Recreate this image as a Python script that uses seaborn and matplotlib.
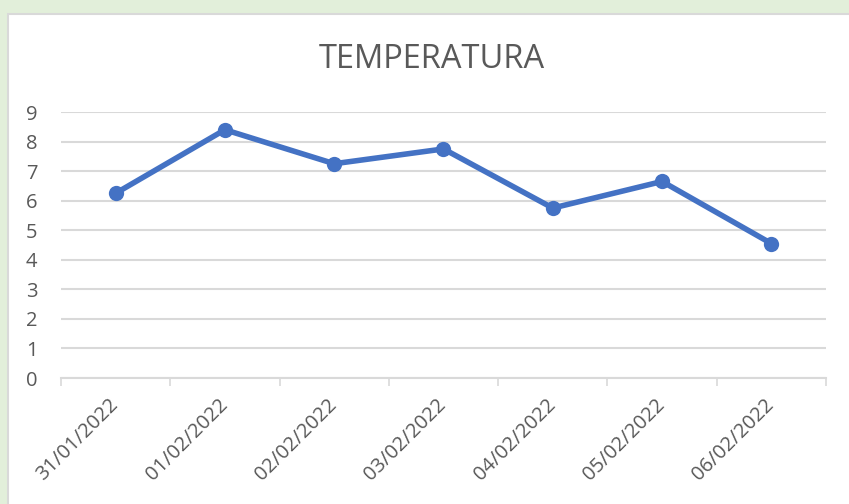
import matplotlib
matplotlib.use("Agg")
import matplotlib.pyplot as plt
import matplotlib.patches as mpatches
import seaborn as sns
import pandas as pd
import numpy as np

dates = ["31/01/2022", "01/02/2022", "02/02/2022", "03/02/2022",
         "04/02/2022", "05/02/2022", "06/02/2022"]
temps = [6.25, 8.4, 7.25, 7.75, 5.75, 6.65, 4.55]
yticks = [0, 1, 2, 3, 4, 5, 6, 7, 8, 9]
title = "TEMPERATURA"

sns.set_theme(style="white")
plt.rcParams['font.family'] = ['Open Sans', 'DejaVu Sans']

W, H = 849, 504
fig = plt.figure(figsize=(W / 100, H / 100), dpi=100)
fig.patch.set_facecolor("#e2efda")

# white chart panel
panel = mpatches.Rectangle((8 / W, -0.01), 1.0, 1.01 - 14 / H, transform=fig.transFigure,
                           facecolor="white", edgecolor="#d9d9d9", linewidth=1.5,
                           zorder=-10)
fig.patches.append(panel)

ax = fig.add_axes([61 / W, (H - 378) / H, (826 - 61) / W, (378 - 112) / H])
ax.set_facecolor("none")
ax.set_zorder(1)

df = pd.DataFrame({"fecha": dates, "temp": temps})
df["pos"] = np.arange(len(dates))
sns.lineplot(data=df, x="pos", y="temp", ax=ax, color="#4472C4", linewidth=4,
             marker="o", markersize=11, markeredgewidth=0, zorder=3)

ax.set_xlim(-0.5, len(dates) - 0.5)
ax.set_ylim(0, 9)
ax.set_yticks(yticks)
ax.set_yticklabels([str(v) for v in yticks])
ax.set_xticks(df["pos"])
ax.set_xticklabels(dates, rotation=45, ha="right", va="center",
                   rotation_mode="anchor")
ax.set_xticks(np.arange(-0.5, len(dates)), minor=True)
ax.tick_params(axis="x", which="major", length=0, pad=17, labelsize=14.5,
               labelcolor="#595959")
ax.tick_params(axis="x", which="minor", length=6, width=1.2, color="#d9d9d9",
               direction="out", bottom=True)
ax.tick_params(axis="y", length=0, pad=17, labelsize=14.5, labelcolor="#595959")
ax.grid(axis="y", color="#d9d9d9", linewidth=1.5)
ax.grid(axis="x", visible=False)
ax.set_axisbelow(True)
for s in ["top", "right", "left"]:
    ax.spines[s].set_visible(False)
ax.spines["bottom"].set_color("#d9d9d9")
ax.spines["bottom"].set_linewidth(1.5)
ax.set_xlabel("")
ax.set_ylabel("")

fig.text(432 / W, 1 - 59 / H, title, ha="center", va="center",
         fontsize=23.5, color="#595959")

fig.savefig("out.png", dpi=100, facecolor=fig.get_facecolor())
